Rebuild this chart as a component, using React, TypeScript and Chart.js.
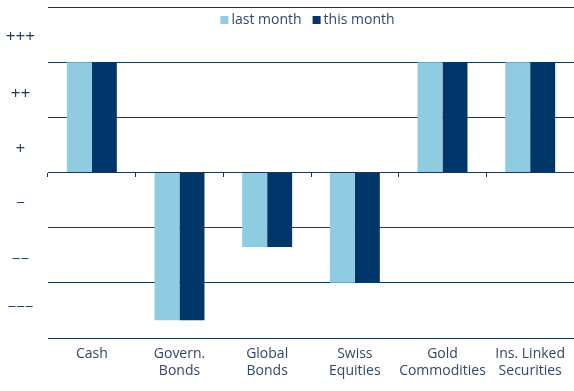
import React, { useEffect, useRef } from 'react';
import { Chart, registerables } from 'chart.js';

Chart.register(...registerables);

const categories: (string | string[])[] = [
  'Cash',
  ['Govern.', 'Bonds'],
  ['Global', 'Bonds'],
  ['Swiss', 'Equities'],
  ['Gold', 'Commodities'],
  ['Ins. Linked', 'Securities'],
];
const seriesNames = ['last month', 'this month'];
const lastMonth = [2, -2.68, -1.35, -2, 2, 2];
const thisMonth = [2, -2.68, -1.35, -2, 2, 2];
const yGridValues = [-3, -2, -1, 0, 1, 2, 3];
const yLabelValues = [-2.46, -1.575, -0.56, 0.42, 1.42, 2.46];
const yLabelTexts = ['−−−', '−−', '−', '+', '++', '+++'];

const LIGHT = '#8fcbe1';
const DARK = '#003669';
const GRID = '#1b3658';
const TEXT = '#33476a';
const FONT = '"Open Sans", "DejaVu Sans", sans-serif';

const overlayLegend = {
  id: 'overlayLegend',
  afterDraw(chart: any) {
    const { ctx, chartArea } = chart;
    ctx.save();
    ctx.font = `14px ${FONT}`;
    const box = 8;
    const gapText = 3;
    const gapItem = 11;
    const items = chart.data.datasets.map((ds: any) => ({
      label: ds.label as string,
      color: ds.backgroundColor as string,
      w: ctx.measureText(ds.label).width,
    }));
    const total = items.reduce(
      (s: number, it: any, i: number) => s + box + gapText + it.w + (i ? gapItem : 0),
      0
    );
    let x = (chartArea.left + chartArea.right) / 2 - total / 2 - 3.5;
    const baseline = chartArea.top + 17;
    ctx.textBaseline = 'alphabetic';
    ctx.textAlign = 'left';
    items.forEach((it: any) => {
      ctx.fillStyle = it.color;
      ctx.fillRect(x, baseline - 8, box, box);
      x += box + gapText;
      ctx.fillStyle = TEXT;
      ctx.fillText(it.label, x, baseline);
      x += it.w + gapItem;
    });
    ctx.restore();
  },
};

export default function App() {
  const ref = useRef<HTMLCanvasElement | null>(null);

  useEffect(() => {
    document.body.style.margin = '0';
    if (!ref.current) return;
    const chart = new Chart(ref.current, {
      type: 'bar',
      data: {
        labels: categories,
        datasets: [
          {
            label: seriesNames[0],
            data: lastMonth,
            backgroundColor: LIGHT,
            borderWidth: 0,
            barPercentage: 1,
            categoryPercentage: 0.57,
          },
          {
            label: seriesNames[1],
            data: thisMonth,
            backgroundColor: DARK,
            borderWidth: 0,
            barPercentage: 1,
            categoryPercentage: 0.57,
          },
        ],
      },
      options: {
        responsive: false,
        animation: false,
        devicePixelRatio: 1,
        layout: { padding: { top: 7, bottom: 11, left: 0, right: 0 } },
        plugins: {
          legend: { display: false },
          tooltip: { enabled: false },
        },
        scales: {
          x: {
            grid: { display: false, drawTicks: false },
            border: { display: false },
            ticks: {
              font: { family: FONT, size: 14 },
              color: TEXT,
              padding: 8,
              maxRotation: 0,
              autoSkip: false,
            },
            afterFit: (s: any) => {
              s.height = 42;
              s.paddingLeft = 0;
              s.paddingRight = 0;
            },
          },
          x2: {
            type: 'category',
            position: { y: 0 },
            offset: true,
            grid: {
              offset: true,
              drawOnChartArea: false,
              drawTicks: true,
              tickLength: 4,
              color: GRID,
              lineWidth: 1,
            },
            border: { display: false },
            ticks: { display: false },
            afterFit: (s: any) => {
              s.height = 0;
              s.paddingLeft = 0;
              s.paddingRight = 0;
            },
          },
          y: {
            min: -3,
            max: 3,
            afterBuildTicks: (s: any) => {
              s.ticks = [...yGridValues, ...yLabelValues]
                .sort((a, b) => a - b)
                .map((v) => ({ value: v }));
            },
            afterFit: (s: any) => {
              s.width = 48;
              s.paddingTop = 0;
              s.paddingBottom = 0;
            },
            grid: {
              drawTicks: false,
              lineWidth: 1,
              color: (c: any) =>
                c.tick && Number.isInteger(c.tick.value) ? GRID : 'rgba(0,0,0,0)',
            },
            border: { display: false },
            ticks: {
              crossAlign: 'center',
              padding: 13,
              color: '#1f3760',
              font: (c: any) => ({
                family: FONT,
                size: c.tick && c.tick.value < 0 ? 15 : 17,
              }),
              callback: (value: any) => {
                const i = yLabelValues.indexOf(Number(value));
                return i >= 0 ? yLabelTexts[i] : [];
              },
            },
          },
        },
      },
      plugins: [overlayLegend],
    } as any);
    return () => chart.destroy();
  }, []);

  return (
    <div style={{ width: 574, height: 391 }}>
      <canvas ref={ref} width={574} height={391} style={{ display: 'block' }} />
    </div>
  );
}
